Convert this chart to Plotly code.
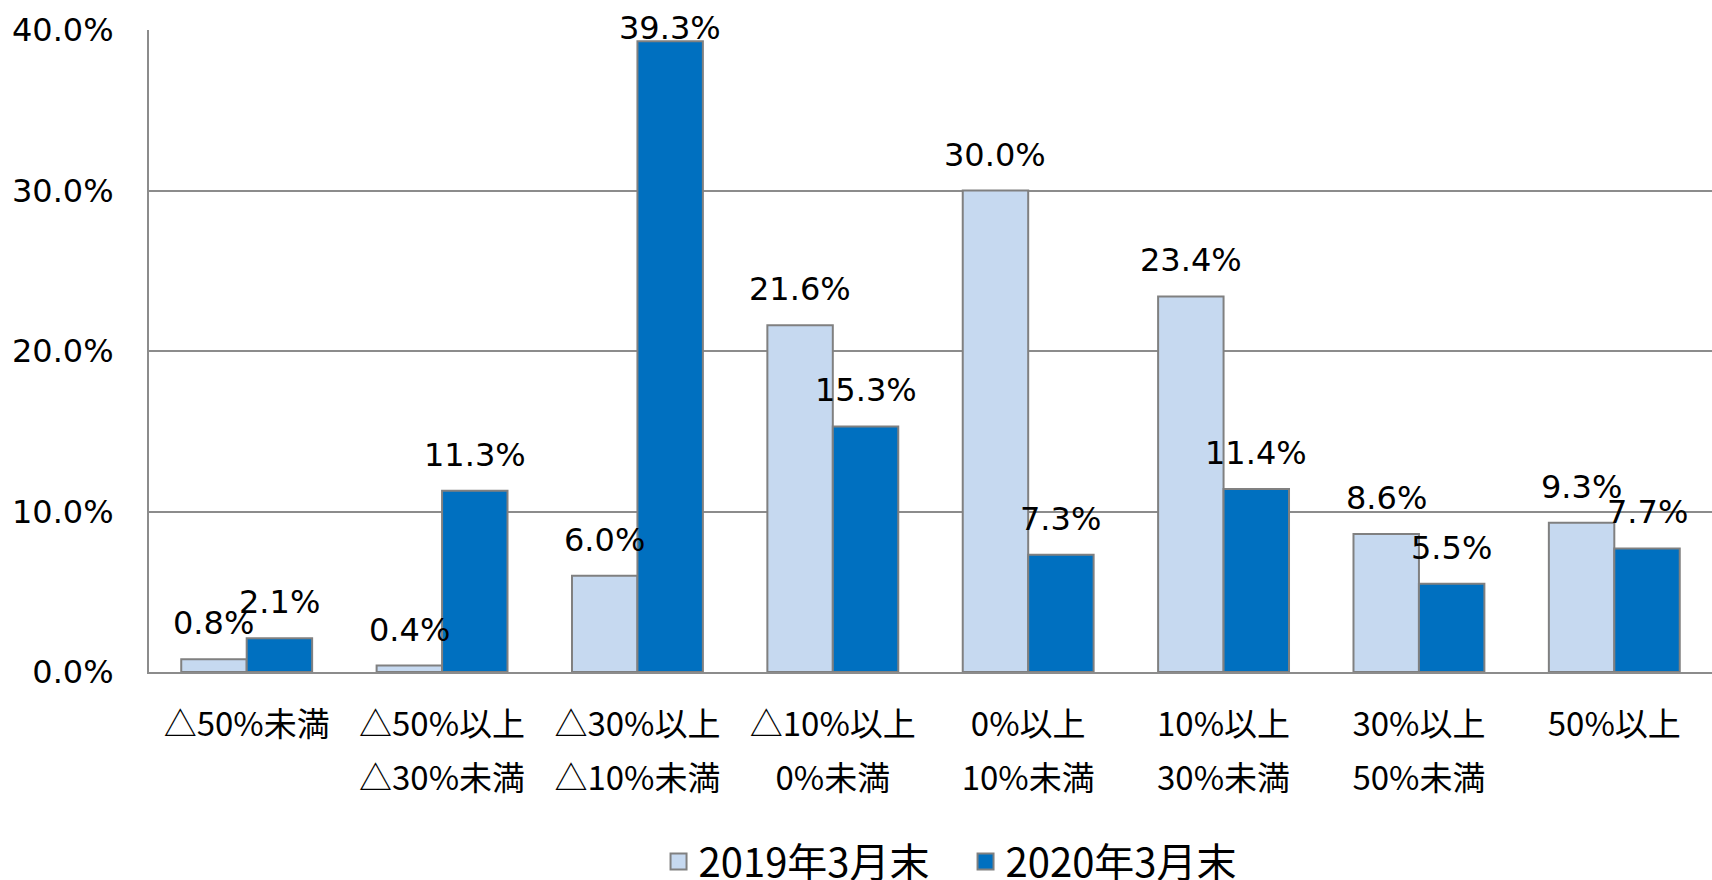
import plotly.graph_objects as go

# ---- data ----
cat_line1 = ["△50%未満", "△50%以上", "△30%以上", "△10%以上", "0%以上", "10%以上", "30%以上", "50%以上"]
cat_line2 = ["", "△30%未満", "△10%未満", "0%未満", "10%未満", "30%未満", "50%未満", ""]
series_names = ["2019年3月末", "2020年3月末"]
values_2019 = [0.8, 0.4, 6.0, 21.6, 30.0, 23.4, 8.6, 9.3]
values_2020 = [2.1, 11.3, 39.3, 15.3, 7.3, 11.4, 5.5, 7.7]
y_tickvals = [0, 10, 20, 30, 40]
y_ticktext = ["0.0%", "10.0%", "20.0%", "30.0%", "40.0%"]

# ---- style ----
W, H = 1712, 880
M_L, M_R, M_T, M_B = 149, 0, 30, 208
Y_MAX = 40
BARGAP = 0.33
colors = ["#C6D9F0", "#0070C0"]
edge = "#808080"
grid = "#8C8C8C"
LATIN = "DejaVu Sans, Verdana, sans-serif"
CJK = "Noto Sans CJK JP, sans-serif"

x_idx = list(range(len(cat_line1)))
fig = go.Figure()
for name, vals, col in zip(series_names, [values_2019, values_2020], colors):
    fig.add_trace(go.Bar(
        x=x_idx, y=vals, name=name, showlegend=False,
        marker=dict(color=col, line=dict(color=edge, width=2)),
    ))
    # legend proxy with a larger square symbol
    fig.add_trace(go.Scatter(
        x=[None], y=[None], mode="markers", name=name,
        marker=dict(symbol="square", size=22, color=col, line=dict(color=edge, width=2)),
    ))

# data labels above bars (annotations, offset to each bar's centre)
plot_h = H - M_T - M_B
px_per_unit = plot_h / Y_MAX
bar_w = (1 - BARGAP) / 2
LABEL_SHIFT = 15
MIN_LABEL_BOTTOM = 49  # keep labels inside the chart area (like the original)
annotations = []
for k, vals in enumerate([values_2019, values_2020]):
    off = (k - 0.5) * bar_w
    for i, v in enumerate(vals):
        top_px = M_T + (Y_MAX - v) * px_per_unit
        shift = min(LABEL_SHIFT, top_px - MIN_LABEL_BOTTOM)
        annotations.append(dict(
            x=i + off, y=v, xref="x", yref="y", text=f"{v:.1f}%",
            showarrow=False, yanchor="bottom", xanchor="center", yshift=shift,
            font=dict(family=LATIN, size=32, color="black"),
        ))

fig.update_layout(
    width=W, height=H,
    margin=dict(l=M_L, r=M_R, t=M_T, b=M_B, autoexpand=False),
    paper_bgcolor="white", plot_bgcolor="white",
    barmode="group", bargap=BARGAP, bargroupgap=0,
    annotations=annotations,
    legend=dict(
        orientation="h", x=0.326, xanchor="left", y=-0.295, yanchor="middle",
        font=dict(family=CJK, size=40, color="black"),
        itemsizing="trace", entrywidth=262,
    ),
    xaxis=dict(
        range=[-0.5, len(cat_line1) - 0.5], tickvals=x_idx, ticktext=cat_line1,
        showgrid=False, zeroline=False, showline=True, linecolor=grid, linewidth=2,
        ticks="", tickfont=dict(family=CJK, size=33, color="black"),
        ticklabelstandoff=22, automargin=False,
    ),
    xaxis2=dict(
        overlaying="x", anchor="y", side="bottom",
        range=[-0.5, len(cat_line1) - 0.5], tickvals=x_idx, ticktext=cat_line2,
        showgrid=False, zeroline=False, showline=False,
        ticks="", tickfont=dict(family=CJK, size=33, color="black"),
        ticklabelstandoff=84, automargin=False,
    ),
    yaxis=dict(
        range=[0, Y_MAX], tickvals=y_tickvals, ticktext=y_ticktext,
        showgrid=True, gridcolor=grid, gridwidth=1.5,
        zeroline=False, showline=True, linecolor=grid, linewidth=2,
        ticks="", tickfont=dict(family=LATIN, size=32, color="black"),
        ticklabelstandoff=27, automargin=False,
    ),
)
# dummy trace so xaxis2 renders its tick labels
fig.add_trace(go.Scatter(x=[None], y=[None], xaxis="x2", showlegend=False, hoverinfo="skip"))

fig.write_html(
    "out.html",
    config={"displayModeBar": False},
    post_script="document.body.style.margin='0px';document.body.style.overflow='hidden';",
)
